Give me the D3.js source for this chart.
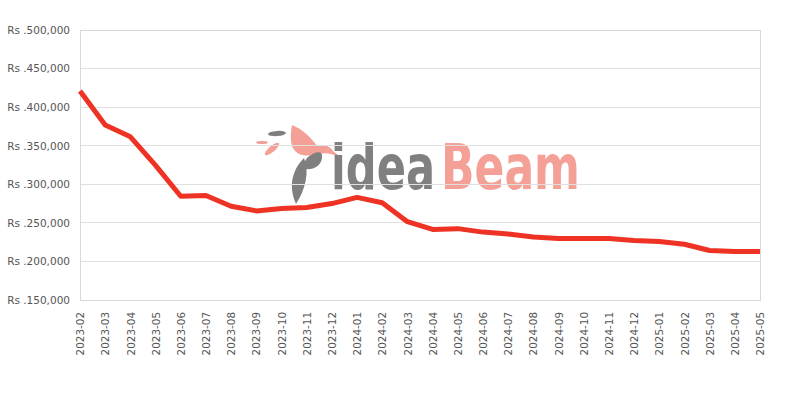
<!DOCTYPE html>
<html><head><meta charset="utf-8">
<script src="https://cdn.jsdelivr.net/npm/d3@7"></script>
<style>body{margin:0;background:#fff}svg{display:block}</style>
</head><body>
<svg id="c" width="800" height="400"></svg>
<script>
const months = ["2023-02","2023-03","2023-04","2023-05","2023-06","2023-07","2023-08","2023-09","2023-10","2023-11","2023-12","2024-01","2024-02","2024-03","2024-04","2024-05","2024-06","2024-07","2024-08","2024-09","2024-10","2024-11","2024-12","2025-01","2025-02","2025-03","2025-04","2025-05"];
const prices = [421000,377000,361500,324500,284500,285500,271500,265500,268500,270000,275000,283000,276000,251500,241500,242500,238000,235500,231800,229800,229800,229800,227200,225800,222300,214200,212800,212800];
const yTicks = [150000,200000,250000,300000,350000,400000,450000,500000];

const svg = d3.select("#c");
const L=80,R=760,T=30,B=300;
const x = d3.scalePoint().domain(months).range([L,R]);
const y = d3.scaleLinear().domain([150000,500000]).range([B,T]);
const font = "'DejaVu Sans', sans-serif";

// watermark logo
const logo = svg.append("g");
logo.append("ellipse").attr("cx",277).attr("cy",133.5).attr("rx",9).attr("ry",2.6).attr("fill","#7f7f7f").attr("transform","rotate(-4,277,133.5)");
logo.append("ellipse").attr("cx",262).attr("cy",142.5).attr("rx",6).attr("ry",1.6).attr("fill","#f4a097");
logo.append("ellipse").attr("cx",272).attr("cy",149).attr("rx",9).attr("ry",3).attr("fill","#f4a097").attr("transform","rotate(-40,272,149)");
logo.append("path").attr("fill","#f4a097")
  .attr("d","M292,125 C302,129 312,138 317,146 C324,143 331,147 334,152 L341,157 L331,154 C325,152 320,154 314,155 C303,157 295,154 292,146 C290,138 291,131 292,125 Z");
logo.append("path").attr("fill","#7f7f7f")
  .attr("d","M308,157 C316,151 323,150 322,158 C321,166 313,170 306,169 C303,166 304,161 308,157 Z");
logo.append("path").attr("fill","#7f7f7f")
  .attr("d","M304,158 C294,168 287,184 296,204 C305,190 310,172 304,158 Z");
const lf = "'DejaVu Sans Condensed','DejaVu Sans',sans-serif";
function logoWord(txt, x0, w, col){
  const t = logo.append("text").attr("font-family",lf).attr("font-weight","bold").attr("font-size",62)
    .attr("fill",col).text(txt);
  const nat = t.node().getComputedTextLength();
  t.attr("transform",`translate(${x0},188.5) scale(${w/nat},1)`);
}
logoWord("idea",331,104,"#808080");
logoWord("Beam",441,139,"#f4a097");

// gridlines
svg.append("g").selectAll("line").data(yTicks).join("line")
  .attr("x1",L).attr("x2",R).attr("y1",d=>y(d)).attr("y2",d=>y(d))
  .attr("stroke","#e0e0e0").attr("stroke-width",1).attr("shape-rendering","crispEdges");
// frame
svg.append("rect").attr("x",L).attr("y",T).attr("width",R-L).attr("height",B-T)
  .attr("fill","none").attr("stroke","#d9d9d9").attr("shape-rendering","crispEdges");

// y axis labels
const ya = svg.append("g").attr("transform",`translate(${L},0)`)
  .call(d3.axisLeft(y).tickValues(yTicks).tickSize(0).tickPadding(10).tickFormat(d=>"Rs ."+d3.format(",")(d)));
ya.select(".domain").remove();
ya.selectAll("text").attr("font-family",font).attr("font-size",10.5).attr("fill","#555");

// x axis labels
const xa = svg.append("g").attr("transform",`translate(0,${B})`)
  .call(d3.axisBottom(x).tickSize(0).tickPadding(0));
xa.select(".domain").remove();
xa.selectAll("text").attr("font-family",font).attr("font-size",10.4).attr("fill","#555")
  .attr("text-anchor","end").attr("transform","translate(0,12) rotate(-90)").attr("x",0).attr("y",0).attr("dy","0.35em");

// line
svg.append("path").datum(prices)
  .attr("fill","none").attr("stroke","#ee3224").attr("stroke-width",5).attr("stroke-linejoin","round")
  .attr("d",d3.line().x((d,i)=>x(months[i])).y(d=>y(d)));
</script>
</body></html>
